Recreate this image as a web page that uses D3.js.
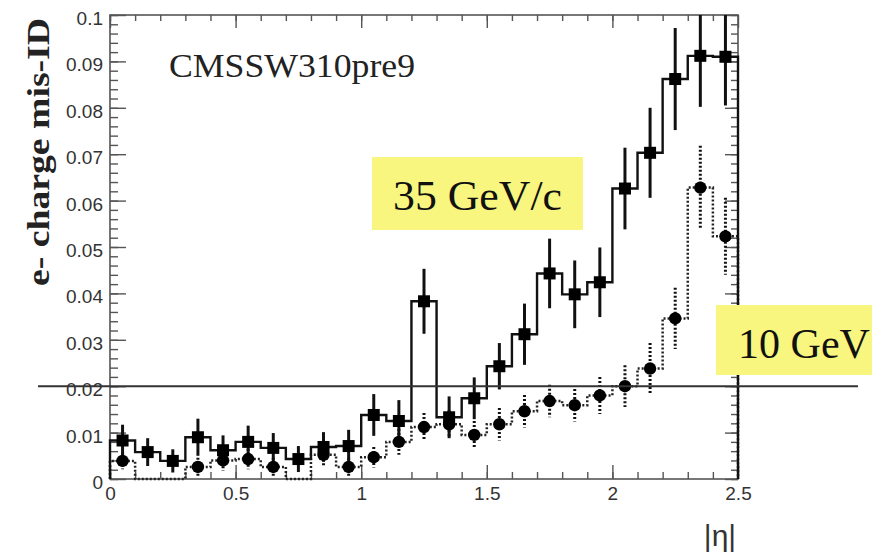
<!DOCTYPE html>
<html>
<head>
<meta charset="utf-8">
<script src="https://cdn.jsdelivr.net/npm/d3@7"></script>
<style>
  html, body { margin: 0; padding: 0; background: #fff; }
  svg { display: block; }
</style>
</head>
<body>
<svg id="chart" width="881" height="552"></svg>
<script>
// |eta| bins of width 0.1 (bin centres)
const etaBins = [0.05,0.15,0.25,0.35,0.45,0.55,0.65,0.75,0.85,0.95,1.05,1.15,1.25,1.35,1.45,1.55,1.65,1.75,1.85,1.95,2.05,2.15,2.25,2.35,2.45];
const binWidth = 0.1;

// 35 GeV/c electrons: charge mis-ID rate and its uncertainty
const misId35 = [0.0083,0.0058,0.0039,0.0090,0.0062,0.0080,0.0067,0.0043,0.0069,0.0071,0.0138,0.0125,0.0383,0.0133,0.0174,0.0243,0.0312,0.0443,0.0398,0.0424,0.0626,0.0703,0.0862,0.0912,0.0910];
const err35    = [0.0034,0.0030,0.0025,0.0040,0.0032,0.0035,0.0032,0.0028,0.0032,0.0035,0.0045,0.0045,0.0070,0.0045,0.0045,0.0050,0.0066,0.0075,0.0073,0.0075,0.0088,0.0097,0.0110,0.0110,0.0105];

// 10 GeV/c electrons
const misId10 = [0.0039,0,0,0.0026,0.0040,0.0043,0.0026,0,0.0052,0.0026,0.0047,0.0080,0.0112,0.0118,0.0095,0.0118,0.0146,0.0168,0.0159,0.0180,0.0200,0.0238,0.0346,0.0628,0.0523];
const err10    = [0.0018,0,0,0.0020,0.0022,0.0022,0.0020,0,0.0025,0.0020,0.0022,0.0028,0.0030,0.0030,0.0030,0.0035,0.0035,0.0035,0.0035,0.0040,0.0045,0.0055,0.0066,0.0090,0.0083];

// axis ticks and labels
const xMajorTicks = [0,0.5,1,1.5,2,2.5];
const xTickLabels = ["0","0.5","1","1.5","2","2.5"];
const yMajorTicks = [0,0.01,0.02,0.03,0.04,0.05,0.06,0.07,0.08,0.09,0.1];
const yTickLabels = ["0","0.01","0.02","0.03","0.04","0.05","0.06","0.07","0.08","0.09","0.1"];
const referenceLevel = 0.02;

const svg = d3.select("#chart");
const x = d3.scaleLinear().domain([0, 2.5]).range([110, 738]);
const y = d3.scaleLinear().domain([0, 0.1]).range([479, 15]);

const axisColor = "#555";
const labelFont = "'Liberation Sans', Arial, sans-serif";
const serifFont = "'Liberation Serif', 'Times New Roman', serif";

const xMinor = d3.range(0, 25).map(i => +(i * 0.1).toFixed(2));
const yMinor = d3.range(0, 51).map(i => +(i * 0.002).toFixed(3));

function styleAxis(g) {
  g.select(".domain").remove();
  g.selectAll(".tick line").attr("stroke", axisColor).attr("stroke-width", 1.4);
  g.selectAll(".tick text")
    .attr("fill", "#333")
    .style("font-family", labelFont)
    .style("font-size", "19px");
}

// bottom axis (ticks pointing into the frame)
svg.append("g").attr("transform", `translate(0,${y(0)})`)
  .call(d3.axisBottom(x).tickValues(xMinor).tickSize(-7).tickFormat(""))
  .call(styleAxis);
svg.append("g").attr("transform", `translate(0,${y(0)})`)
  .call(d3.axisBottom(x).tickValues(xMajorTicks).tickSize(-14).tickPadding(21)
        .tickFormat((d, i) => xTickLabels[i]))
  .call(styleAxis)
  .call(g => g.selectAll(".tick text").attr("dy", "0"));

// top axis
svg.append("g").attr("transform", `translate(0,${y(0.1)})`)
  .call(d3.axisTop(x).tickValues(xMinor).tickSize(-6).tickFormat(""))
  .call(styleAxis);
svg.append("g").attr("transform", `translate(0,${y(0.1)})`)
  .call(d3.axisTop(x).tickValues(xMajorTicks).tickSize(-13).tickFormat(""))
  .call(styleAxis);

// left axis
svg.append("g").attr("transform", `translate(${x(0)},0)`)
  .call(d3.axisLeft(y).tickValues(yMinor).tickSize(-8).tickFormat(""))
  .call(styleAxis);
svg.append("g").attr("transform", `translate(${x(0)},0)`)
  .call(d3.axisLeft(y).tickValues(yMajorTicks).tickSize(-16).tickPadding(7)
        .tickFormat((d, i) => yTickLabels[i]))
  .call(styleAxis)
  .call(g => g.selectAll(".tick text").attr("dy", "0.5em"));

// right axis
svg.append("g").attr("transform", `translate(${x(2.5)},0)`)
  .call(d3.axisRight(y).tickValues(yMinor).tickSize(-7).tickFormat(""))
  .call(styleAxis);
svg.append("g").attr("transform", `translate(${x(2.5)},0)`)
  .call(d3.axisRight(y).tickValues(yMajorTicks).tickSize(-13).tickFormat(""))
  .call(styleAxis);

// frame
svg.append("rect")
  .attr("x", x(0)).attr("y", y(0.1))
  .attr("width", x(2.5) - x(0)).attr("height", y(0) - y(0.1))
  .attr("fill", "none").attr("stroke", axisColor).attr("stroke-width", 1.6);

// histogram outline as a step path
function stepPoints(values) {
  const pts = [[x(0), y(0)]];
  values.forEach((v, i) => {
    const lo = etaBins[i] - binWidth / 2, hi = etaBins[i] + binWidth / 2;
    pts.push([x(lo), y(v)], [x(hi), y(v)]);
  });
  pts.push([x(2.5), y(0)]);
  return pts;
}
const line = d3.line();

// 10 GeV/c: dotted histogram
svg.append("path")
  .attr("d", line(stepPoints(misId10)))
  .attr("fill", "none").attr("stroke", "#222")
  .attr("stroke-width", 2.5).attr("stroke-dasharray", "2,2");

// 35 GeV/c: solid histogram
svg.append("path")
  .attr("d", line(stepPoints(misId35)))
  .attr("fill", "none").attr("stroke", "#111").attr("stroke-width", 2.4);

// error bars
function errorBars(values, errs, dashed) {
  svg.append("g").selectAll("line")
    .data(etaBins.map((e, i) => ({ e, v: values[i], s: errs[i] })).filter(d => d.v > 0))
    .join("line")
    .attr("x1", d => x(d.e)).attr("x2", d => x(d.e))
    .attr("y1", d => y(Math.min(0.1, d.v + d.s))).attr("y2", d => y(Math.max(0, d.v - d.s)))
    .attr("stroke", "#111").attr("stroke-width", 3)
    .attr("stroke-dasharray", dashed ? "2,2" : null);
}
errorBars(misId10, err10, true);
errorBars(misId35, err35, false);

// markers
svg.append("g").selectAll("circle")
  .data(etaBins.map((e, i) => ({ e, v: misId10[i] })).filter(d => d.v > 0))
  .join("circle")
  .attr("cx", d => x(d.e)).attr("cy", d => y(d.v)).attr("r", 6.2)
  .attr("fill", "#000");

svg.append("g").selectAll("rect")
  .data(etaBins.map((e, i) => ({ e, v: misId35[i] })))
  .join("rect")
  .attr("x", d => x(d.e) - 6).attr("y", d => y(d.v) - 6)
  .attr("width", 12).attr("height", 12)
  .attr("fill", "#000");

// reference level line
svg.append("line")
  .attr("x1", 38).attr("x2", 858)
  .attr("y1", y(referenceLevel)).attr("y2", y(referenceLevel))
  .attr("stroke", "#333").attr("stroke-width", 2);

// axis titles
svg.append("text")
  .attr("transform", "translate(49,152) rotate(-90)")
  .attr("text-anchor", "middle")
  .attr("textLength", 268).attr("lengthAdjust", "spacingAndGlyphs")
  .style("font-family", serifFont).style("font-weight", "bold").style("font-size", "32px")
  .attr("fill", "#222")
  .text("e- charge mis-ID");

svg.append("text")
  .attr("x", 720).attr("y", 546)
  .attr("text-anchor", "middle")
  .style("font-family", labelFont).style("font-size", "30px")
  .attr("fill", "#333")
  .text("|η|");

// release tag
svg.append("text")
  .attr("x", 169).attr("y", 77)
  .attr("textLength", 246).attr("lengthAdjust", "spacingAndGlyphs")
  .style("font-family", serifFont).style("font-size", "33px")
  .attr("fill", "#222")
  .text("CMSSW310pre9");

// momentum labels
const boxFill = "#f9f67f";
svg.append("rect").attr("x", 372).attr("y", 157).attr("width", 211).attr("height", 73).attr("fill", boxFill);
svg.append("text")
  .attr("x", 393).attr("y", 210)
  .attr("textLength", 169).attr("lengthAdjust", "spacingAndGlyphs")
  .style("font-family", serifFont).style("font-size", "42px")
  .attr("fill", "#111")
  .text("35 GeV/c");

svg.append("rect").attr("x", 716).attr("y", 305).attr("width", 156).attr("height", 70).attr("fill", boxFill);
svg.append("text")
  .attr("x", 738).attr("y", 358)
  .attr("textLength", 132).attr("lengthAdjust", "spacingAndGlyphs")
  .style("font-family", serifFont).style("font-size", "42px")
  .attr("fill", "#111")
  .text("10 GeV");
</script>
</body>
</html>
